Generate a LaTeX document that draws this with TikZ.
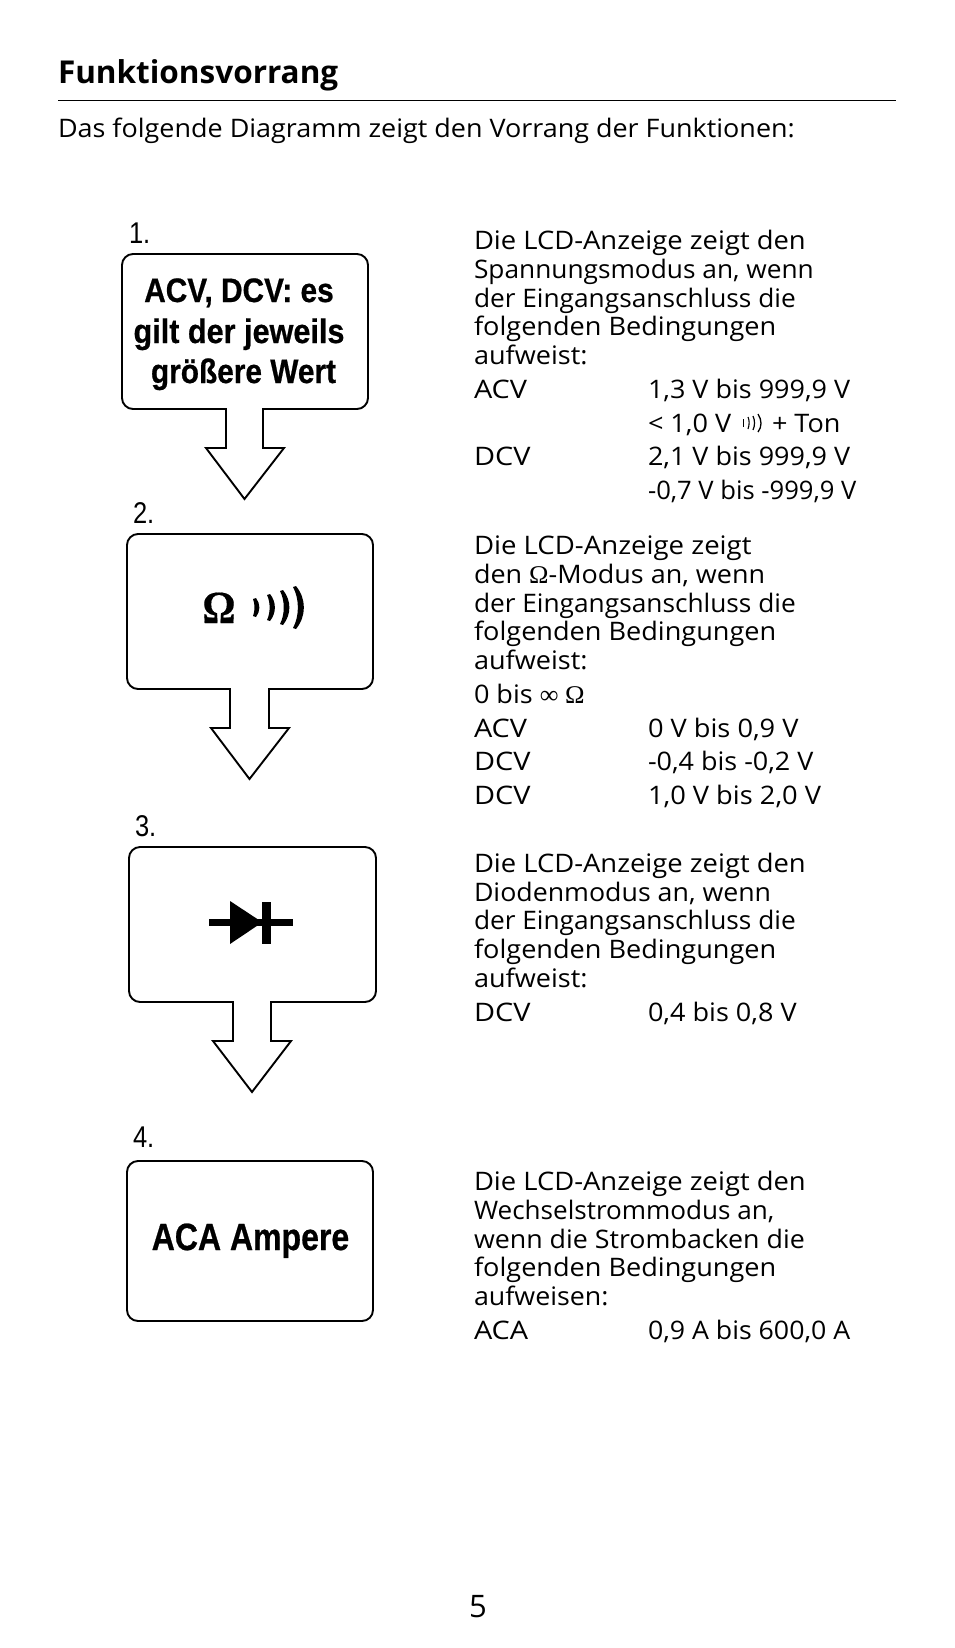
\documentclass[tikz,border=0pt]{standalone}
\usepackage{graphicx}
\usepackage{fontspec}
\setmainfont{Open Sans}
\newfontfamily\bodyf[FakeStretch=1.03]{Open Sans}
\newfontfamily\condf[FakeStretch=0.86,FakeBold=0.6]{Liberation Sans Bold}
\newfontfamily\numf[FakeStretch=0.85]{Liberation Sans}
\newfontfamily\serf{Liberation Serif}
\newfontfamily\omf[FakeBold=0.4]{Liberation Serif Bold}
\newcommand{\hs}[2]{\scalebox{#1}[1]{#2}}
\tikzset{
  body/.style={anchor=base west,inner sep=0pt,outer sep=0pt,font=\fontsize{25.5}{28}\selectfont\bodyf},
  head/.style={anchor=base west,inner sep=0pt,outer sep=0pt,font=\fontsize{31.5}{36}\selectfont\bfseries},
  numlabel/.style={anchor=base west,inner sep=0pt,outer sep=0pt,font=\fontsize{30}{36}\selectfont\numf},
  boxtext/.style={anchor=base,inner sep=0pt,outer sep=0pt,font=\fontsize{34}{38}\selectfont\condf},
  outline/.style={draw=black,line width=1.9pt,line join=miter,fill=white},
}
% #1 x1, #2 y1, #3 x2, #4 y2, #5 shaftL, #6 shaftR, #7 headY, #8 headL, #9 headR; \tipy tip y
\newcommand{\flowbox}[9]{%
 \draw[outline] (#1+11,#2) -- (#3-11,#2) .. controls (#3-5,#2) and (#3,#2+5) .. (#3,#2+11) -- (#3,#4-11)
   .. controls (#3,#4-5) and (#3-5,#4) .. (#3-11,#4) -- (#6,#4) -- (#6,#7) -- (#9,#7) -- ({(#5+#6)/2},\tipy)
   -- (#8,#7) -- (#5,#7) -- (#5,#4) -- (#1+11,#4) .. controls (#1+5,#4) and (#1,#4-5) .. (#1,#4-11)
   -- (#1,#2+11) .. controls (#1,#2+5) and (#1+5,#2) .. (#1+11,#2) -- cycle;}
% crescent: top x, top y, bottom x, bottom y, outer bulge, inner bulge
\newcommand{\crescent}[6]{%
 \fill (#1,#2) .. controls (#1+#5,#2+0.3*#4-0.3*#2) and (#3+#5,#2+0.7*#4-0.7*#2) .. (#3,#4)
   -- (#3-3,#4-1) .. controls (#3-3+#6,#2+0.7*#4-0.7*#2) and (#1-3+#6,#2+0.3*#4-0.3*#2) .. (#1-3,#2+1) -- cycle;}
\begin{document}
\begin{tikzpicture}[x=1pt,y=-1pt]
\useasboundingbox (0,0) rectangle (954,1648);
\fill[white] (0,0) rectangle (954,1648);
% heading
\node[head] (title) at (58,84) {Funktionsvorrang};
\coordinate (ruleL) at (58,100); \coordinate (ruleR) at (896,100);
\draw[line width=0.9pt] (ruleL) -- (ruleR);
\node[body] (intro) at (58,138) {\hs{1.026}{Das folgende Diagramm zeigt den Vorrang der Funktionen:}};
% boxes
\node[numlabel] (n1) at (129,243) {1.};
\def\tipy{499}\flowbox{122}{254}{368}{409}{226}{263}{448}{206}{284}
\node[boxtext] (b1a) at (239,302) {\hs{1.02}{ACV, DCV: es}};
\node[boxtext] (b1b) at (239,343) {\hs{1.047}{gilt der jeweils}};
\node[boxtext] (b1c) at (243.5,383) {\hs{1.02}{größere Wert}};
\node[numlabel] (n2) at (133,523) {2.};
\def\tipy{779}\flowbox{127}{534}{373}{689}{230}{269}{728}{211}{289}
\node[anchor=base,inner sep=0pt,font=\fontsize{46}{50}\selectfont\omf] (b2) at (219,623) {\hs{0.9}{Ω}};
\crescent{256}{598}{256}{617}{4.5}{2}
\crescent{270}{594}{270}{621}{6.5}{3.5}
\crescent{283}{590}{283}{625}{8.5}{5}
\crescent{296}{586}{296}{629}{10.5}{6.5}
\node[numlabel] (n3) at (135,836) {3.};
\def\tipy{1092}\flowbox{129}{847}{376}{1002}{233}{271}{1041}{213}{291}
\node[numlabel] (n4) at (133,1147) {4.};
\draw[outline,rounded corners=11pt] (127,1161) rectangle (373,1321);
\node[boxtext,font=\fontsize{38}{42}\selectfont\condf] (b4) at (250.5,1250) {\hs{0.98}{ACA Ampere}};
% diode
\fill (209,919) rectangle (293,926);
\fill (230,901) -- (230,944) -- (262.3,922.3) -- cycle;
\fill (262,902) rectangle (271,944);
% text 1
\node[body] (a1) at (474,249) {\hs{1.043}{Die LCD-Anzeige zeigt den}};
\node[body] (a2) at (474,278) {Spannungsmodus an, wenn};
\node[body] (a3) at (474,307) {der Eingangsanschluss die};
\node[body] (a4) at (474,335) {\hs{1.032}{folgenden Bedingungen}};
\node[body] (a5) at (474,364) {\hs{1.03}{aufweist:}};
\node[body] (a6) at (474,398) {\hs{1.1}{ACV}};
\node[body] (a7) at (648,398) {\hs{1.027}{1,3 V bis 999,9 V}};
\node[body] (a8) at (648,432) {\hs{1.03}{< 1,0 V}};
\node[body] (a9) at (772,432) {\hs{1.03}{+ Ton}};
\draw[line width=1pt] (743.5,419) -- (743.5,427);
\draw[line width=1.1pt] (748,417) .. controls (749.5,420) and (749.5,425) .. (748,429);
\draw[line width=1.2pt] (753,416) .. controls (755,420) and (755,426) .. (753,430);
\draw[line width=1.3pt] (758,414) .. controls (762,420) and (762,427) .. (758,432);
\node[body] (a10) at (474,465) {\hs{1.1}{DCV}};
\node[body] (a11) at (648,465) {\hs{1.027}{2,1 V bis 999,9 V}};
\node[body] (a12) at (648,499) {\hs{0.975}{-0,7 V bis -999,9 V}};
% text 2
\node[body] (c1) at (474,554) {\hs{1.05}{Die LCD-Anzeige zeigt}};
\node[body] (c2) at (474,583) {\hs{1.026}{den {\serf Ω}-Modus an, wenn}};
\node[body] (c3) at (474,612) {der Eingangsanschluss die};
\node[body] (c4) at (474,640) {\hs{1.032}{folgenden Bedingungen}};
\node[body] (c5) at (474,669) {\hs{1.03}{aufweist:}};
\node[body] (c6) at (474,703) {\hs{1.03}{0 bis {\serf ∞ Ω}}};
\node[body] (c7) at (474,737) {\hs{1.1}{ACV}};
\node[body] (c8) at (648,737) {\hs{1.036}{0 V bis 0,9 V}};
\node[body] (c9) at (474,770) {\hs{1.1}{DCV}};
\node[body] (c10) at (648,770) {\hs{1.026}{-0,4 bis -0,2 V}};
\node[body] (c11) at (474,804) {\hs{1.1}{DCV}};
\node[body] (c12) at (648,804) {\hs{1.038}{1,0 V bis 2,0 V}};
% text 3
\node[body] (d1) at (474,872) {\hs{1.043}{Die LCD-Anzeige zeigt den}};
\node[body] (d2) at (474,901) {\hs{1.018}{Diodenmodus an, wenn}};
\node[body] (d3) at (474,929) {der Eingangsanschluss die};
\node[body] (d4) at (474,958) {\hs{1.032}{folgenden Bedingungen}};
\node[body] (d5) at (474,987) {\hs{1.03}{aufweist:}};
\node[body] (d6) at (474,1021) {\hs{1.1}{DCV}};
\node[body] (d7) at (648,1021) {\hs{1.03}{0,4 bis 0,8 V}};
% text 4
\node[body] (e1) at (474,1190) {\hs{1.043}{Die LCD-Anzeige zeigt den}};
\node[body] (e2) at (474,1219) {\hs{0.993}{Wechselstrommodus an,}};
\node[body] (e3) at (474,1248) {\hs{1.02}{wenn die Strombacken die}};
\node[body] (e4) at (474,1276) {\hs{1.032}{folgenden Bedingungen}};
\node[body] (e5) at (474,1305) {\hs{1.02}{aufweisen:}};
\node[body] (e6) at (474,1339) {\hs{1.1}{ACA}};
\node[body] (e7) at (648,1339) {\hs{1.017}{0,9 A bis 600,0 A}};
% page number
\node[anchor=base,inner sep=0pt,font=\fontsize{31}{36}\selectfont] (page) at (478,1617) {5};
\end{tikzpicture}
\end{document}
